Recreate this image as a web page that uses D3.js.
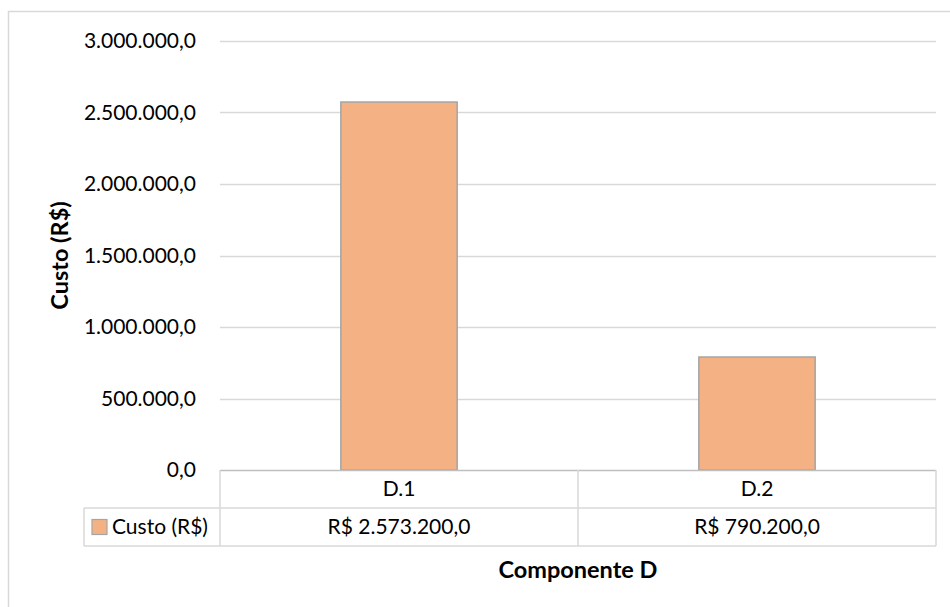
<!DOCTYPE html>
<html>
<head>
<meta charset="utf-8">
<script src="https://cdn.jsdelivr.net/npm/d3@7"></script>
<style>
  html, body { margin: 0; padding: 0; background: #fff; }
  svg { display: block; font-family: Lato, "Open Sans", sans-serif; }
</style>
</head>
<body>
<svg id="chart" width="950" height="607"></svg>
<script>
// Component D costs (R$)
const categories = ["D.1", "D.2"];
const costs = [2573200, 790200];
const seriesName = "Custo (R$)";
const yTicks = [0, 500000, 1000000, 1500000, 2000000, 2500000, 3000000];

const svg = d3.select("#chart");
const gridColor = "#d9d9d9";
const barFill = "#f4b183";
const barStroke = "#a5a5a5";
const fontSize = 21;
const titleSize = 23.5;

// plot area
const plotLeft = 220, plotRight = 936, plotTop = 41, plotBottom = 470;
const rowH = 38;

// pt-BR number formatting: "2.573.200,0"
const ptBR = d3.formatLocale({ decimal: ",", thousands: ".", grouping: [3], currency: ["R$ ", ""] });
const fmt = ptBR.format(",.1f");

const x = d3.scaleBand().domain(categories).range([plotLeft, plotRight]).paddingInner(0).paddingOuter(0);
const y = d3.scaleLinear().domain([0, 3000000]).range([plotBottom, plotTop]);

// outer chart frame (left and top edges visible)
svg.append("path")
  .attr("d", `M8.5,607 V11.5 H950`)
  .attr("fill", "none").attr("stroke", gridColor).attr("stroke-width", 1.5);

// gridlines
svg.append("g").selectAll("line").data(yTicks.filter(d => d > 0)).join("line")
  .attr("x1", plotLeft).attr("x2", plotRight)
  .attr("y1", d => Math.round(y(d)) + 0.5).attr("y2", d => Math.round(y(d)) + 0.5)
  .attr("stroke", gridColor).attr("stroke-width", 1.5);

// y axis tick labels
const yAxis = d3.axisLeft(y).tickValues(yTicks).tickFormat(fmt).tickSize(0).tickPadding(24);
const gy = svg.append("g").attr("transform", `translate(${plotLeft},0)`).call(yAxis);
gy.select(".domain").remove();
gy.selectAll("text").attr("font-size", fontSize).attr("fill", "#000")
  .attr("font-family", "Lato, 'Open Sans', sans-serif");

// bars
const barW = x.bandwidth() * 0.325;
svg.append("g").selectAll("rect").data(categories).join("rect")
  .attr("x", (d) => x(d) + (x.bandwidth() - barW) / 2)
  .attr("y", (d, i) => y(costs[i]))
  .attr("width", barW)
  .attr("height", (d, i) => y(0) - y(costs[i]))
  .attr("fill", barFill).attr("stroke", barStroke).attr("stroke-width", 1.5);

// data table beneath the axis
const table = svg.append("g");
const legendLeft = 84;
const lineStyle = sel => sel.attr("stroke", gridColor).attr("stroke-width", 1.5).attr("fill", "none");

// horizontal table lines
table.append("line").attr("x1", plotLeft).attr("x2", plotRight).attr("y1", plotBottom + 0.5).attr("y2", plotBottom + 0.5)
  .attr("stroke", "#bfbfbf").attr("stroke-width", 1.5);
table.append("line").attr("x1", legendLeft).attr("x2", plotRight).attr("y1", plotBottom + rowH).attr("y2", plotBottom + rowH).call(lineStyle);
table.append("line").attr("x1", legendLeft).attr("x2", plotRight).attr("y1", plotBottom + 2 * rowH).attr("y2", plotBottom + 2 * rowH).call(lineStyle);
// vertical table lines
table.append("line").attr("x1", legendLeft).attr("x2", legendLeft).attr("y1", plotBottom + rowH).attr("y2", plotBottom + 2 * rowH).call(lineStyle);
table.selectAll("line.v").data([plotLeft, ...categories.map(c => x(c) + x.bandwidth())]).join("line")
  .attr("class", "v")
  .attr("x1", d => d).attr("x2", d => d)
  .attr("y1", plotBottom).attr("y2", plotBottom + 2 * rowH).call(lineStyle);

// category labels
table.selectAll("text.cat").data(categories).join("text")
  .attr("class", "cat")
  .attr("x", d => x(d) + x.bandwidth() / 2).attr("y", plotBottom + rowH / 2)
  .attr("dy", "0.35em").attr("text-anchor", "middle").attr("font-size", fontSize)
  .text(d => d);

// value cells
table.selectAll("text.val").data(categories).join("text")
  .attr("class", "val")
  .attr("x", d => x(d) + x.bandwidth() / 2).attr("y", plotBottom + rowH * 1.5)
  .attr("dy", "0.35em").attr("text-anchor", "middle").attr("font-size", fontSize)
  .text((d, i) => "R$ " + fmt(costs[i]));

// legend key cell
table.append("rect").attr("x", 92).attr("y", plotBottom + rowH * 1.5 - 7.5).attr("width", 15).attr("height", 15)
  .attr("fill", barFill).attr("stroke", barStroke).attr("stroke-width", 1.2);
table.append("text").attr("x", 112).attr("y", plotBottom + rowH * 1.5).attr("dy", "0.35em")
  .attr("font-size", fontSize).text(seriesName);

// axis titles
svg.append("text")
  .attr("transform", `translate(68,${(plotTop + plotBottom) / 2}) rotate(-90)`)
  .attr("text-anchor", "middle").attr("font-size", titleSize).attr("font-weight", "bold")
  .text("Custo (R$)");
svg.append("text")
  .attr("x", (plotLeft + plotRight) / 2).attr("y", 578)
  .attr("text-anchor", "middle").attr("font-size", titleSize).attr("font-weight", "bold")
  .text("Componente D");
</script>
</body>
</html>
